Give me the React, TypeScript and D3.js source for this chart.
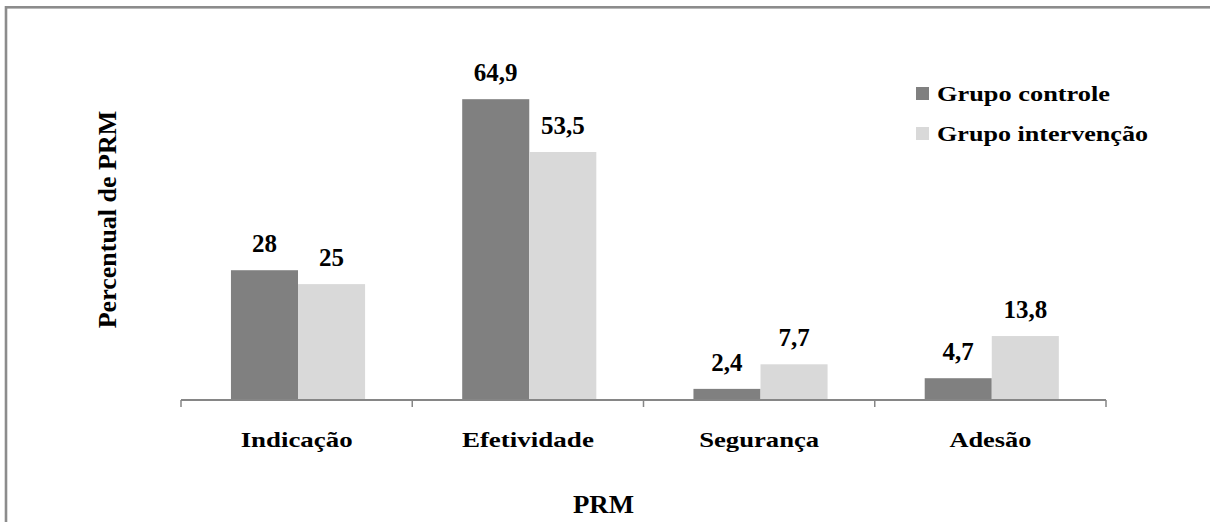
import React from "react";
import * as d3 from "d3";

const categories = ["Indicação", "Efetividade", "Segurança", "Adesão"];
const seriesNames = ["Grupo controle", "Grupo intervenção"];
const controle = [28, 64.9, 2.4, 4.7];
const intervencao = [25, 53.5, 7.7, 13.8];
const valueLabelsControle = ["28", "64,9", "2,4", "4,7"];
const valueLabelsIntervencao = ["25", "53,5", "7,7", "13,8"];
const yTitle = "Percentual de PRM";
const xTitle = "PRM";

const colors = ["#808080", "#d9d9d9"];
const catLabelWidths = [112, 132, 120, 82];
const legendWidths = [173, 211];
const FONT = '"Liberation Serif", "Times New Roman", Times, "DejaVu Serif", serif';
const tStyle: React.CSSProperties = { fontFamily: FONT, fontWeight: 700 };

export default function App() {
  const W = 1210, H = 522;
  const baseY = 400;
  const x0 = d3.scaleBand<string>().domain(categories).range([181, 1106]).padding(0);
  const bw = x0.bandwidth();
  const x1 = d3.scaleBand<string>().domain(seriesNames).range([bw * 0.216, bw * 0.796]).padding(0);
  const y = d3.scaleLinear().domain([0, 70]).range([baseY, baseY - 70 * 4.635]);
  const series = [controle, intervencao];
  const labels = [valueLabelsControle, valueLabelsIntervencao];
  const tickXs = [...categories.map((c) => x0(c) as number), 1106];

  return (
    <svg width={W} height={H} style={{ position: "absolute", left: 0, top: 0 }}>
      <rect x={0} y={0} width={W} height={H} fill="#fff" />
      <rect x={6} y={7.3} width={W + 20} height={H + 20} fill="none" stroke="#8c8c8c" strokeWidth={2.6} />
      {series.map((vals, si) =>
        vals.map((v, ci) => {
          const c = categories[ci];
          const bx = (x0(c) as number) + (x1(seriesNames[si]) as number);
          const w = x1.bandwidth();
          return (
            <g key={`${si}-${ci}`}>
              <rect x={bx} y={y(v)} width={w} height={baseY - y(v)} fill={colors[si]} />
              <text
                x={bx + w / 2}
                y={y(v) - 18}
                textAnchor="middle"
                style={{ ...tStyle, fontSize: 25 }}
                fill="#000"
              >
                {labels[si][ci]}
              </text>
            </g>
          );
        })
      )}
      <line x1={tickXs[0]} x2={tickXs[tickXs.length - 1]} y1={baseY} y2={baseY} stroke="#868686" strokeWidth={2} />
      {tickXs.map((tx, i) => (
        <line key={i} x1={tx} x2={tx} y1={baseY} y2={baseY + 7} stroke="#868686" strokeWidth={1.5} />
      ))}
      {categories.map((c, i) => (
        <text
          key={c}
          x={(x0(c) as number) + bw / 2 - catLabelWidths[i] / 2}
          y={447}
          style={{ ...tStyle, fontSize: 22 }}
          textLength={catLabelWidths[i]}
          lengthAdjust="spacingAndGlyphs"
          fill="#000"
        >
          {c}
        </text>
      ))}
      <text x={573} y={513} style={{ ...tStyle, fontSize: 26 }} textLength={61} lengthAdjust="spacingAndGlyphs" fill="#000">
        {xTitle}
      </text>
      <text
        transform={`translate(116, 219.5) rotate(-90)`}
        textAnchor="middle"
        style={{ ...tStyle, fontSize: 26 }}
        fill="#000"
      >
        {yTitle}
      </text>
      {seriesNames.map((s, i) => (
        <g key={s}>
          <rect x={916} y={87 + i * 40} width={13} height={13} fill={colors[i]} />
          <text
            x={937}
            y={101 + i * 40}
            style={{ ...tStyle, fontSize: 22 }}
            textLength={legendWidths[i]}
            lengthAdjust="spacingAndGlyphs"
            fill="#000"
          >
            {s}
          </text>
        </g>
      ))}
    </svg>
  );
}
